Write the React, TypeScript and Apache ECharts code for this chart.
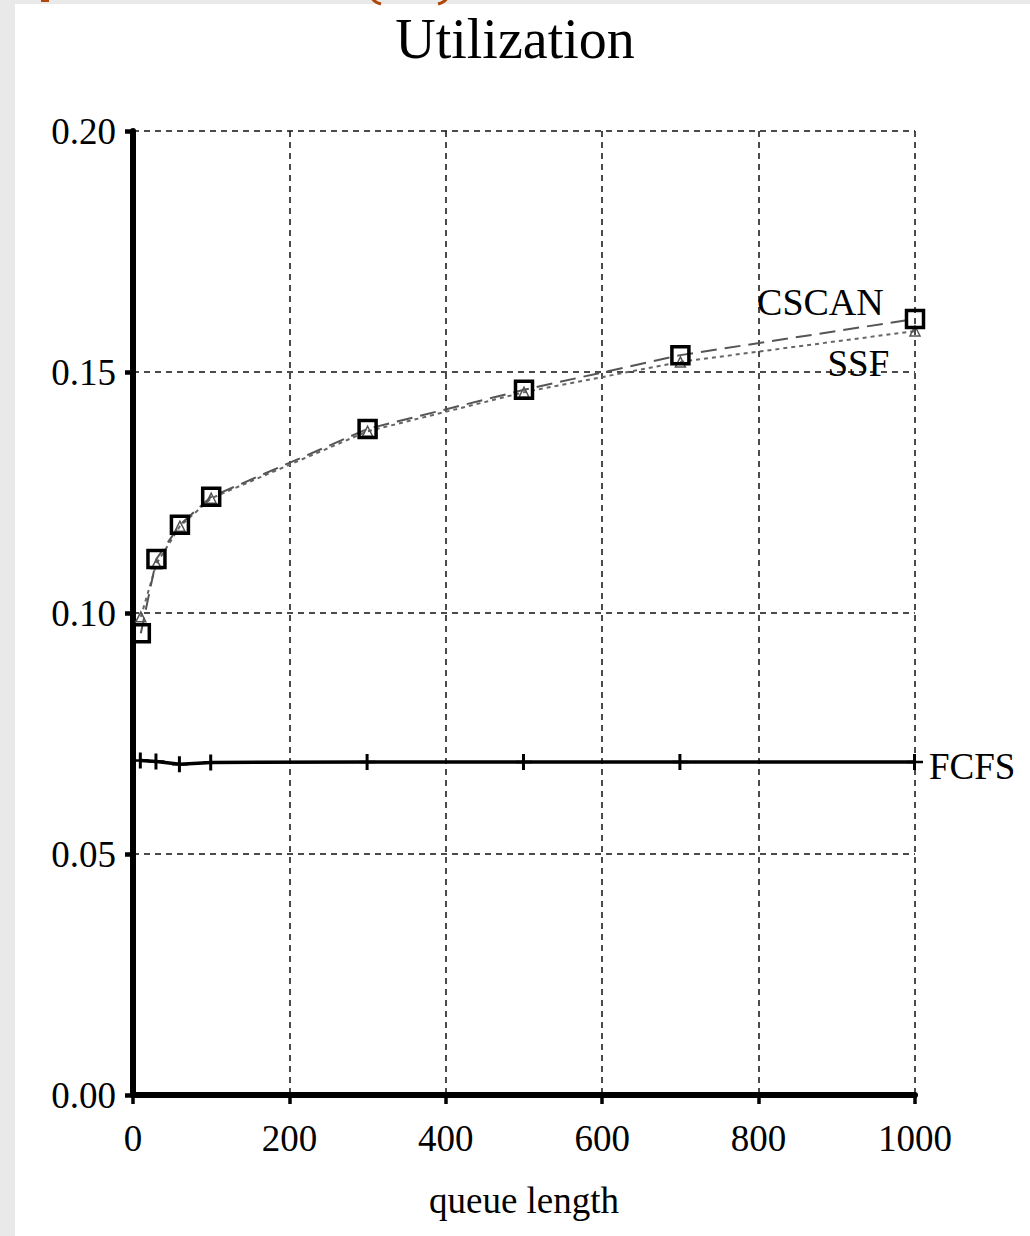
import React, { useEffect, useRef } from "react";
import * as echarts from "echarts";

const queueLength = [10, 30, 60, 100, 300, 500, 700, 1000];
const cscan = [0.0958, 0.1112, 0.1183, 0.1241, 0.1382, 0.1463, 0.1535, 0.161];
const ssf = [0.0992, 0.1102, 0.118, 0.1238, 0.1377, 0.1458, 0.1521, 0.1585];
const fcfs = [0.0694, 0.0692, 0.0686, 0.069, 0.0691, 0.0691, 0.0691, 0.0691];
const xTicks = [0, 200, 400, 600, 800, 1000];
const yTicks = [0, 0.05, 0.1, 0.15, 0.2];

const FONT = "'Liberation Serif', 'Times New Roman', serif";
const PLUS = "path://M6,0h3v7h7v2.5h-7v7h-3v-7h-6v-2.5h6z";
const ORANGE = "#b0480c";

const pairs = (ys: number[]) => queueLength.map((x, i) => [x, ys[i]]);

export default function App() {
  const ref = useRef<HTMLDivElement>(null);
  useEffect(() => {
    document.body.style.margin = "0";
    if (!ref.current) return;
    const chart = echarts.init(ref.current, null, { renderer: "svg" });
    const lastIdx = queueLength.length - 1;
    const withEndLabel = (ys: number[], label: any) =>
      pairs(ys).map((p, i) => (i === lastIdx ? { value: p, label: { show: true, ...label } } : { value: p }));
    chart.setOption({
      animation: false,
      backgroundColor: "#ffffff",
      title: {
        text: "Utilization",
        left: "center",
        top: 6,
        textStyle: { fontFamily: FONT, fontSize: 56, fontWeight: "normal", color: "#000" },
      },
      grid: { left: 133, right: 115, top: 131, bottom: 141 },
      xAxis: {
        type: "value",
        min: xTicks[0],
        max: xTicks[xTicks.length - 1],
        interval: xTicks[1] - xTicks[0],
        name: "queue length",
        nameLocation: "middle",
        nameGap: 87,
        nameTextStyle: { fontFamily: FONT, fontSize: 37, color: "#000" },
        axisLine: { show: true, onZero: false, lineStyle: { color: "#000", width: 6 } },
        axisTick: { show: true, inside: false, length: 9, lineStyle: { color: "#000", width: 3.5 } },
        axisLabel: {
          fontFamily: FONT,
          fontSize: 37,
          color: "#000",
          margin: 25,
          formatter: (v: number) => String(v),
        },
        splitLine: { show: true, lineStyle: { color: "#111", width: 1.5, type: [6, 5] } },
      },
      yAxis: {
        type: "value",
        min: yTicks[0],
        max: yTicks[yTicks.length - 1],
        interval: 0.05,
        axisLine: { show: true, onZero: false, lineStyle: { color: "#000", width: 6 } },
        axisTick: { show: true, inside: false, length: 8, lineStyle: { color: "#000", width: 4.5 } },
        axisLabel: {
          fontFamily: FONT,
          fontSize: 37,
          color: "#000",
          margin: 17,
          formatter: (v: number) => v.toFixed(2),
        },
        splitLine: { show: true, lineStyle: { color: "#111", width: 1.5, type: [6, 5] } },
      },
      series: [
        {
          name: "FCFS",
          type: "line",
          data: withEndLabel(fcfs, {
            formatter: "FCFS",
            position: "right",
            distance: 6,
            offset: [0, 5],
            fontFamily: FONT,
            fontSize: 37,
            color: "#000",
          }),
          symbol: PLUS,
          symbolSize: 16,
          showAllSymbol: true,
          itemStyle: { color: "#000" },
          lineStyle: { color: "#000", width: 3.5 },
          z: 3,
        },
        {
          name: "SSF",
          type: "line",
          data: withEndLabel(ssf, {
            formatter: "SSF",
            position: "left",
            distance: 20,
            offset: [0, 32],
            fontFamily: FONT,
            fontSize: 37,
            color: "#000",
          }),
          symbol: "triangle",
          symbolSize: 10,
          showAllSymbol: true,
          itemStyle: { color: "rgba(0,0,0,0)", borderColor: "#555", borderWidth: 1.5 },
          lineStyle: { color: "#666", width: 2, type: [4, 4] },
          z: 4,
        },
        {
          name: "CSCAN",
          type: "line",
          data: withEndLabel(cscan, {
            formatter: "CSCAN",
            position: "left",
            distance: 21,
            offset: [0, -17],
            fontFamily: FONT,
            fontSize: 38,
            color: "#000",
          }),
          symbol: "rect",
          symbolSize: 17,
          showAllSymbol: true,
          itemStyle: { color: "rgba(0,0,0,0)", borderColor: "#000", borderWidth: 3.5 },
          lineStyle: { color: "#555", width: 2, type: [16, 8] },
          z: 5,
        },
      ],
      graphic: [
        { type: "rect", left: 0, top: 0, shape: { width: 15, height: 1236 }, style: { fill: "#e9e9e9" }, z: 100 },
        { type: "rect", left: 0, top: 0, shape: { width: 1030, height: 4 }, style: { fill: "#e9e9e9" }, z: 100 },
        { type: "rect", left: 41, top: 0, shape: { width: 8, height: 2 }, style: { fill: ORANGE }, z: 101 },
        {
          type: "bezierCurve",
          shape: { x1: 372, y1: -2, cpx1: 374, cpy1: 2, x2: 381, y2: 4 },
          style: { stroke: ORANGE, lineWidth: 3, fill: "none" },
          z: 101,
        },
        {
          type: "bezierCurve",
          shape: { x1: 447, y1: -2, cpx1: 445, cpy1: 2, x2: 438, y2: 4 },
          style: { stroke: ORANGE, lineWidth: 3, fill: "none" },
          z: 101,
        },
      ],
    });
    return () => chart.dispose();
  }, []);
  return <div ref={ref} style={{ width: 1030, height: 1236 }} />;
}
